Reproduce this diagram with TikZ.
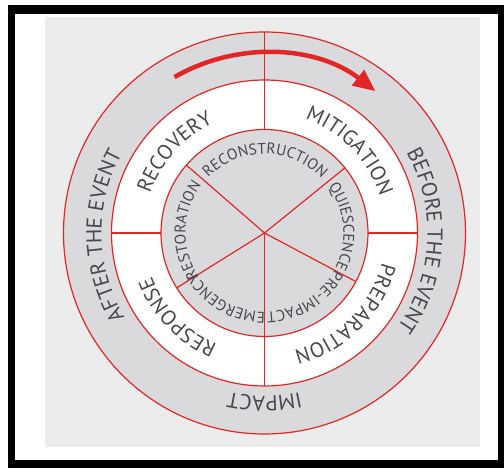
\documentclass[tikz,border=0pt]{standalone}
\usepackage{fontspec}
\setsansfont{PT Sans}
\usetikzlibrary{arrows.meta, decorations.text}
\definecolor{cycred}{RGB}{226,38,38}
\definecolor{panelgray}{RGB}{236,236,236}
\definecolor{ringgray}{RGB}{218,218,221}
\definecolor{labelgray}{RGB}{72,72,78}
\newcommand{\eventfont}{\sffamily\fontsize{21.5}{25}\selectfont\color{labelgray}}
\newcommand{\phasefont}{\sffamily\fontsize{21}{25}\selectfont\color{labelgray}}
\newcommand{\stagefont}{\sffamily\fontsize{15.5}{18}\selectfont\color{labelgray}}

\begin{document}
\begin{tikzpicture}[
    ring/.style={circle, draw=cycred, line width=1.2pt, inner sep=0pt, outer sep=0pt},
    spoke/.style={draw=cycred, line width=1.2pt},
    cycarr/.style={-{Triangle[length=22pt, width=19pt]}, line width=4.5pt, draw=cycred},
    arclabel/.style={decorate, decoration={text along path, text align=center, text={#1}}}
]
\useasboundingbox (-264.5pt,-235pt) rectangle (239.5pt,233pt);
% frame and panel
\fill[black] (-256.5pt,228pt) rectangle (239.5pt,-235pt);
\fill[white] (-249.5pt,219pt) rectangle (233.5pt,-227pt);
\fill[panelgray] (-219.5pt,216pt) rectangle (215.5pt,-214pt);

\coordinate (c) at (0,0);
\node[ring, fill=ringgray, minimum size=402pt] (outer) at (c) {};
\node[ring, fill=white, minimum size=306pt] (middle) at (c) {};
\node[ring, fill=ringgray, minimum size=207pt] (inner) at (c) {};

\draw[spoke] (outer.90) -- (inner.90);
\draw[spoke] (middle.180) -- (inner.180);
\draw[spoke] (inner.0) -- (middle.0);
\draw[spoke] (c) -- (middle.-90);
\foreach \a in {139,39,-28,-148}
    \draw[spoke] (c) -- (inner.\a);

\draw[cycarr] (120:180pt) arc[start angle=120, end angle=52, radius=180pt];

% outer ring
\path[arclabel={|\eventfont|AFTER THE EVENT}] (241:163pt) arc[start angle=241, end angle=121, radius=163pt];
\path[arclabel={|\eventfont|BEFORE THE EVENT}] (57:163pt) arc[start angle=57, end angle=-63, radius=163pt];
\path[arclabel={|\eventfont|IMPACT}] (-30:163pt) arc[start angle=-30, end angle=-150, radius=163pt];

% phases
\path[arclabel={|\phasefont|RECOVERY}] (178:121pt) arc[start angle=178, end angle=98, radius=121pt];
\path[arclabel={|\phasefont|MITIGATION}] (84:121pt) arc[start angle=84, end angle=4, radius=121pt];
\path[arclabel={|\phasefont|PREPARATION}] (-5:121pt) arc[start angle=-5, end angle=-85, radius=121pt];
\path[arclabel={|\phasefont|RESPONSE}] (-96:121pt) arc[start angle=-96, end angle=-176, radius=121pt];

% stages
\path[arclabel={|\stagefont|RECONSTRUCTION}] (149.5:79pt) arc[start angle=149.5, end angle=29.5, radius=79pt];
\path[arclabel={|\stagefont|QUIESCENCE}] (40:79pt) arc[start angle=40, end angle=-30, radius=79pt];
\path[arclabel={|\stagefont|PRE-IMPACT}] (-27:79pt) arc[start angle=-27, end angle=-89, radius=79pt];
\path[arclabel={|\stagefont|EMERGENCY}] (-89:79pt) arc[start angle=-89, end angle=-151, radius=79pt];
\path[arclabel={|\stagefont|RESTORATION}] (221:79pt) arc[start angle=221, end angle=135, radius=79pt];
\end{tikzpicture}
\end{document}
